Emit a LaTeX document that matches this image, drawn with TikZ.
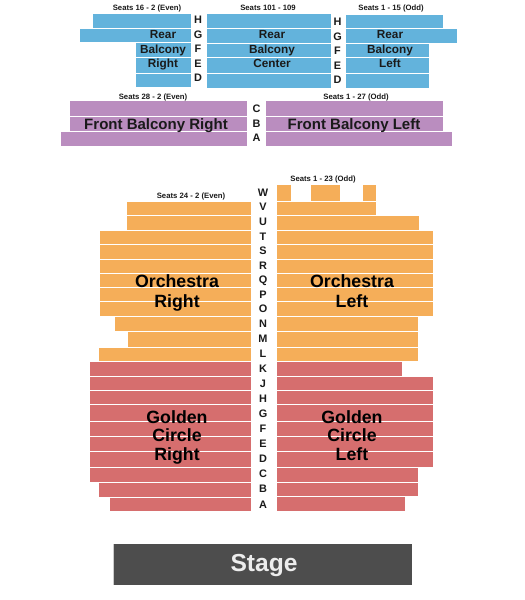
\documentclass[tikz,border=0pt]{standalone}
\usepackage{fontspec}
\setmainfont{Liberation Sans}
\definecolor{rearblue}{HTML}{63B3DC}
\definecolor{frontpurple}{HTML}{BA8DBF}
\definecolor{orchorange}{HTML}{F5AE59}
\definecolor{goldenred}{HTML}{D66E6E}
\definecolor{stagegrey}{HTML}{4D4D4D}
\definecolor{labelblack}{HTML}{1A1A1A}
\tikzset{
    rowlabel/.style={font=\fontsize{6.2}{7}\selectfont\bfseries, text=labelblack, inner sep=0pt, text depth=0pt},
    seatlabel/.style={font=\fontsize{4.4}{5}\selectfont\bfseries, text=labelblack, inner sep=0pt, anchor=base},
    balconylabel/.style={font=\fontsize{6.7}{8.25}\selectfont\bfseries, text=labelblack, inner sep=0pt, align=center, anchor=north},
    frontlabel/.style={font=\fontsize{8.55}{10}\selectfont\bfseries, text=labelblack, inner sep=0pt, anchor=base},
    orchlabel/.style={font=\fontsize{10.1}{11.38}\selectfont\bfseries, text=black, inner sep=0pt, align=center, anchor=north},
    goldenlabel/.style={font=\fontsize{10.1}{10.5}\selectfont\bfseries, text=black, inner sep=0pt, align=center, anchor=north},
}
\begin{document}
\begin{tikzpicture}[x=0.02cm, y=-0.02cm]
    \useasboundingbox (0,0) rectangle (525,600);

    % rear balcony
    \foreach \xa/\xb/\ya/\yb in {93/191/14/28, 80/191/29/42, 136/191/43/57, 136/191/58/73, 136/191/74/87,
            207/331/14/28, 207/331/29/43, 207/331/44/57, 207/331/58/73, 207/331/74/88,
            346/443/15/28, 346/457/29/43, 346/429/44/57, 346/429/58/73, 346/429/74/88} {
            \fill[rearblue] (\xa,\ya) rectangle (\xb,\yb+0.4);
        }

    % front balcony
    \foreach \xa/\xb/\ya/\yb in {70/247/101/116, 70/247/117/131, 61/247/132/146,
            266/443/101/116, 266/443/117/131, 266/452/132/146} {
            \fill[frontpurple] (\xa,\ya) rectangle (\xb,\yb+0.4);
        }

    % orchestra
    \foreach \xa/\xb/\ya/\yb in {127/251/202/215, 127/251/216/230, 100/251/231/244, 100/251/245/259,
            100/251/260/273, 100/251/274/287, 100/251/288/301, 100/251/302/316,
            115/251/317/331, 128/251/332/347, 99/251/348/361,
            277/291/185/201, 311/340/185/201, 363/376/185/201, 277/376/202/215, 277/419/216/230,
            277/433/231/244, 277/433/245/259, 277/433/260/273, 277/433/274/287, 277/433/288/301, 277/433/302/316,
            277/418/317/331, 277/418/332/347, 277/418/348/361} {
            \fill[orchorange] (\xa,\ya) rectangle (\xb,\yb+0.4);
        }

    % golden circle
    \foreach \xa/\xb/\ya/\yb in {90/251/362/376, 90/251/377/390, 90/251/391/404, 90/251/405/421,
            90/251/422/436, 90/251/437/451, 90/251/452/467, 90/251/468/482, 99/251/483/497, 110/251/498/511,
            277/402/362/376, 277/433/377/390, 277/433/391/404, 277/433/405/421,
            277/433/422/436, 277/433/437/451, 277/433/452/467, 277/418/468/482, 277/418/483/496, 277/405/497/511} {
            \fill[goldenred] (\xa,\ya) rectangle (\xb,\yb+0.4);
        }

    % stage
    \draw[black!20, line width=0.3pt] (113,544) -- (113,585);
    \fill[stagegrey] (114,544) rectangle (412,585);
    \node[font=\fontsize{14}{16}\selectfont\bfseries, text=white!93!black, inner sep=0pt, anchor=base] (stage) at (264,571.7) {Stage};

    % row letters
    \foreach \row/\ypos in {H/20, G/35, F/49, E/64, D/78} {
            \node[rowlabel] (rearright\row) at (198,\ypos) {\row};
        }
    \foreach \row/\ypos in {H/22, G/37, F/51, E/66, D/80} {
            \node[rowlabel] (rearleft\row) at (337.5,\ypos) {\row};
        }
    \foreach \row/\ypos in {C/109, B/124, A/138} {
            \node[rowlabel] (front\row) at (256.5,\ypos) {\row};
        }
    \foreach \row/\ypos in {W/193, V/207, U/222, T/237, S/251, R/266, Q/280, P/295, O/309, N/324, M/339, L/354} {
            \node[rowlabel] (orch\row) at (263,\ypos) {\row};
        }
    \foreach \row/\ypos in {K/369, J/384, H/399, G/414, F/429, E/444, D/459, C/474, B/489, A/505} {
            \node[rowlabel] (golden\row) at (263,\ypos) {\row};
        }

    % seat ranges
    \node[seatlabel] (seatsrearright) at (147,10) {Seats 16 - 2 (Even)};
    \node[seatlabel] (seatsrearcenter) at (268,10) {Seats 101 - 109};
    \node[seatlabel] (seatsrearleft) at (391,10) {Seats 1 - 15 (Odd)};
    \node[seatlabel] (seatsfrontright) at (153,99) {Seats 28 - 2 (Even)};
    \node[seatlabel] (seatsfrontleft) at (356,99) {Seats 1 - 27 (Odd)};
    \node[seatlabel] (seatsorchleft) at (323,181) {Seats 1 - 23 (Odd)};
    \node[seatlabel] (seatsorchright) at (191,198) {Seats 24 - 2 (Even)};

    % section names
    \node[balconylabel] (rearright) at (163,30.2) {Rear\\Balcony\\Right};
    \node[balconylabel] (rearcenter) at (272,30.2) {Rear\\Balcony\\Center};
    \node[balconylabel] (rearleft) at (390,30.2) {Rear\\Balcony\\Left};
    \node[frontlabel] (frontright) at (156,129.3) {Front Balcony Right};
    \node[frontlabel] (frontleft) at (354,129.3) {Front Balcony Left};
    \node[orchlabel] (orchright) at (177,274.2) {Orchestra\\Right};
    \node[orchlabel] (orchleft) at (352,274.2) {Orchestra\\Left};
    \node[goldenlabel] (goldenright) at (177,410) {Golden\\Circle\\Right};
    \node[goldenlabel] (goldenleft) at (352,410) {Golden\\Circle\\Left};
\end{tikzpicture}
\end{document}
